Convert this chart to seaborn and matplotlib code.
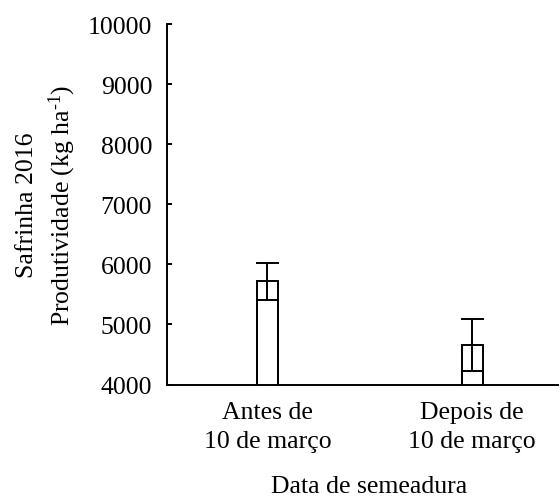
import numpy as np
import pandas as pd
import matplotlib
matplotlib.use("Agg")
import matplotlib.pyplot as plt
import seaborn as sns

# Sowing-date groups and yield summary (kg/ha)
categories = ["Antes de\n10 de março", "Depois de\n10 de março"]
box_top = [5720, 4660]
box_mid = [5400, 4220]
whisker_top = [6020, 5090]
yticks = [4000, 5000, 6000, 7000, 8000, 9000, 10000]

sns.set_theme(style="ticks")
plt.rcParams["font.family"] = ["Liberation Serif", "DejaVu Serif"]
plt.rcParams["mathtext.fontset"] = "custom"
plt.rcParams["mathtext.rm"] = "Liberation Serif"
plt.rcParams["mathtext.it"] = "Liberation Serif:italic"

df = pd.DataFrame({"grupo": categories, "topo": box_top, "meio": box_mid,
                   "barra": whisker_top})

fig = plt.figure(figsize=(5.6, 5.02), dpi=100)
ax = fig.add_axes([0.299, 0.232, 0.698, 0.718])

bar_w = 0.1
lw = 1.4
sns.barplot(data=df, x="grupo", y="topo", ax=ax, width=bar_w,
            facecolor="white", edgecolor="black", linewidth=lw, errorbar=None)
sns.barplot(data=df, x="grupo", y="meio", ax=ax, width=bar_w,
            facecolor="none", edgecolor="black", linewidth=lw, errorbar=None)

pos = np.arange(len(categories))
cap = 0.11
ax.vlines(pos, df["meio"], df["barra"], color="black", linewidth=lw)
ax.hlines(df["barra"], pos - cap / 2, pos + cap / 2, color="black", linewidth=lw)

ax.set_ylim(4000, 10000)
ax.set_xlim(-0.488, 1.42)
ax.set_yticks(yticks)
ax.set_yticklabels([str(v) for v in yticks])

fs = 18.5
ax.tick_params(axis="y", direction="in", length=3.5, width=lw, pad=11,
               labelsize=fs, colors="black")
ax.tick_params(axis="x", length=0, pad=12, labelsize=fs, colors="black")
for lab in ax.get_xticklabels():
    lab.set_linespacing(1.4)

for side in ["top", "right"]:
    ax.spines[side].set_visible(False)
for side in ["left", "bottom"]:
    ax.spines[side].set_linewidth(lw)
    ax.spines[side].set_color("black")

ax.set_xlabel("Data de semeadura", fontsize=fs, color="black")
ax.xaxis.set_label_coords(0.517, -0.25)
ax.set_ylabel("Safrinha 2016\nProdutividade (kg ha$^{\\text{-}1}$)",
              fontsize=fs, color="black", linespacing=1.35)
ax.yaxis.set_label_coords(-0.23, 0.5)

fig.savefig("out.png", dpi=100)
